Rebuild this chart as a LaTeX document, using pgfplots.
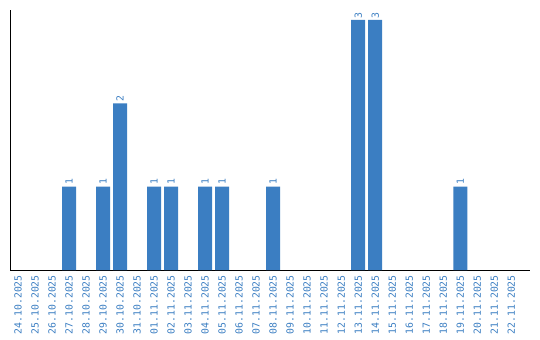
\documentclass[border=0pt]{standalone}
\usepackage{fontspec}
\setmonofont{DejaVu Sans Mono}
\usepackage{pgfplots}
\pgfplotsset{compat=1.18}
\definecolor{barblue}{RGB}{59,126,194}
\begin{document}
\begin{tikzpicture}
\begin{axis}[
  scale only axis,
  width=520bp, height=260bp,
  xmin=-0.47, xmax=30.1,
  ymin=0, ymax=3.12,
  axis x line=bottom, axis y line=left,
  axis line style={-, black, line width=1bp},
  ytick=\empty,
  xtick={0,...,29},
  xticklabels={24.10.2025,25.10.2025,26.10.2025,27.10.2025,28.10.2025,29.10.2025,30.10.2025,31.10.2025,01.11.2025,02.11.2025,03.11.2025,04.11.2025,05.11.2025,06.11.2025,07.11.2025,08.11.2025,09.11.2025,10.11.2025,11.11.2025,12.11.2025,13.11.2025,14.11.2025,15.11.2025,16.11.2025,17.11.2025,18.11.2025,19.11.2025,20.11.2025,21.11.2025,22.11.2025},
  major tick length=0pt,
  xticklabel style={rotate=90, anchor=east, font=\ttfamily\fontsize{9.8bp}{10bp}\selectfont, text=barblue, inner sep=0pt},
  xticklabel shift=5bp,
  /pgf/number format/assume math mode=true,
  nodes near coords,
  every node near coord/.append style={rotate=90, anchor=west, font=\ttfamily\fontsize{9.8bp}{10bp}\selectfont, text=barblue, inner sep=1.5bp},
  clip=false,
]
\addplot[ybar, bar width=14bp, fill=barblue, draw=none] coordinates {
(3,1) (5,1) (6,2) (8,1) (9,1) (11,1) (12,1) (15,1) (20,3) (21,3) (26,1)
};
\end{axis}
\path (current axis.south west) ++(-10bp,-70bp) coordinate (a);
\path (current axis.north east) ++(10bp,10bp) coordinate (b);
\path[use as bounding box] (a) rectangle (b);
\end{tikzpicture}
\end{document}
